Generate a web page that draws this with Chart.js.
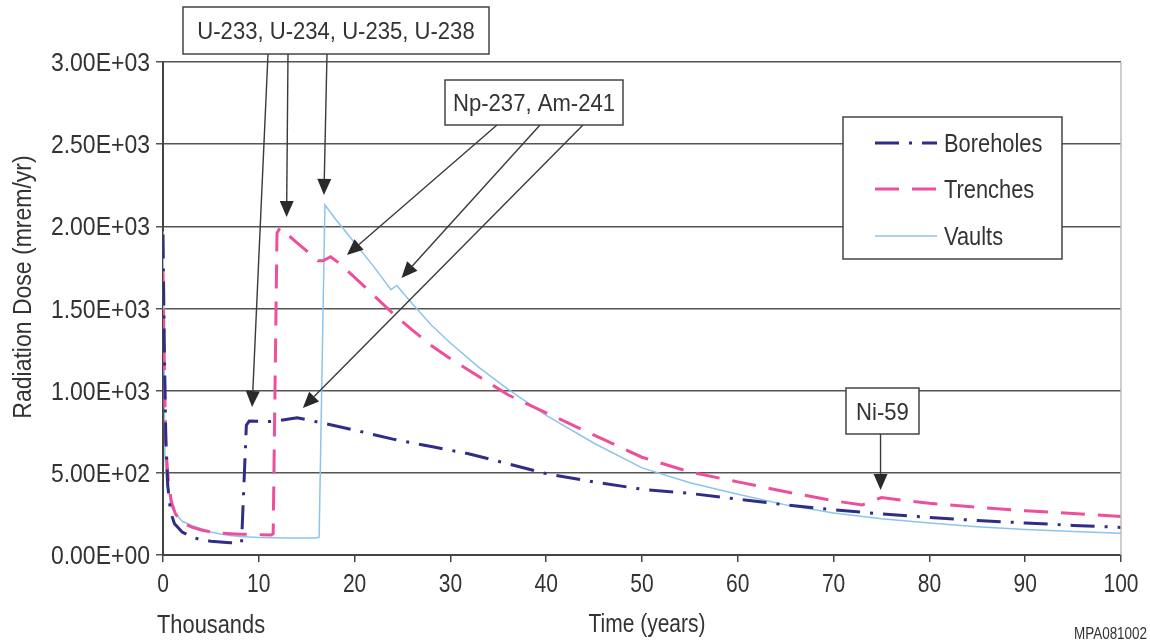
<!DOCTYPE html>
<html>
<head>
<meta charset="utf-8">
<script src="https://cdn.jsdelivr.net/npm/chart.js@4.4.1/dist/chart.umd.min.js"></script>
<style>
  html, body { margin: 0; padding: 0; background: #ffffff; }
  canvas { display: block; }
</style>
</head>
<body>
<canvas id="c" width="1150" height="642"></canvas>
<script>
// ---- Data (time in thousands of years, dose in mrem/yr) ----
const boreholesTime = [0, 0.15, 0.3, 0.5, 0.8, 1.2, 2, 3, 4, 5, 6, 7, 8, 8.2, 8.7, 9, 11, 11.8, 14, 16.5, 20, 24, 28, 32, 36, 40, 45, 50, 55, 60, 65, 70, 75, 80, 85, 90, 95, 100];
const boreholesDose = [1950, 1200, 700, 420, 260, 190, 140, 110, 92, 84, 79, 75, 73, 75, 790, 815, 812, 815, 835, 805, 760, 705, 660, 615, 555, 495, 445, 400, 375, 340, 305, 275, 250, 228, 210, 195, 180, 168];

const trenchesTime = [0, 0.15, 0.3, 0.6, 0.9, 1.3, 2, 3, 4, 5, 6, 8, 10, 11.3, 11.5, 11.9, 12.2, 14, 16.2, 16.7, 17.5, 18.5, 20, 22, 24, 26, 28, 30, 33, 36, 40, 45, 50, 55, 60, 65, 70, 73, 75, 77, 80, 85, 90, 95, 100];
const trenchesDose = [1720, 1100, 650, 420, 320, 250, 195, 170, 152, 140, 133, 127, 123, 122, 130, 1960, 1990, 1900, 1790, 1790, 1815, 1770, 1690, 1580, 1470, 1370, 1275, 1195, 1085, 975, 865, 730, 595, 505, 445, 385, 330, 305, 350, 335, 315, 290, 270, 252, 235];

const vaultsTime = [0, 0.2, 0.4, 0.6, 0.8, 1.2, 2, 3, 4, 5, 6, 7, 8, 10, 13, 16, 16.3, 16.9, 18, 20, 22, 23.8, 24.4, 26, 28, 30, 33, 36, 40, 45, 50, 55, 60, 65, 70, 75, 80, 85, 90, 95, 100];
const vaultsDose = [1970, 600, 425, 400, 300, 260, 205, 180, 160, 140, 128, 118, 112, 106, 104, 104, 110, 2130, 2045, 1900, 1755, 1615, 1640, 1530, 1400, 1290, 1140, 1010, 850, 680, 530, 440, 370, 305, 256, 220, 195, 172, 155, 143, 133];

const seriesNames = ['Boreholes', 'Trenches', 'Vaults'];
const xTickValues = [0, 10, 20, 30, 40, 50, 60, 70, 80, 90, 100];
const yTickValues = [0, 500, 1000, 1500, 2000, 2500, 3000];
const yTickLabels = ['0.00E+00', '5.00E+02', '1.00E+03', '1.50E+03', '2.00E+03', '2.50E+03', '3.00E+03'];

// Annotations: label, and arrow targets in data units (time, dose)
const annoUranium = 'U-233, U-234, U-235, U-238';
const annoUraniumTargets = [[9.3, 900], [12.9, 2057], [16.8, 2191]];
const annoNpAm = 'Np-237, Am-241';
const annoNpAmTargets = [[19.2, 1826], [24.9, 1686], [14.6, 895]];
const annoNi = 'Ni-59';
const annoNiTargets = [[74.9, 396]];

const toPts = (xs, ys) => xs.map((x, i) => ({ x: x, y: ys[i] }));

const REG = "'Liberation Sans', Arial, sans-serif";
const TXT = '#333333';
const SQUEEZE = 0.84;

const styles = [
  { color: '#2f2d85', width: 3, dash: [24, 10, 3, 10] },
  { color: '#ee4f9b', width: 3, dash: [24, 13] },
  { color: '#8cc4ec', width: 1.5, dash: [] }
];

// condensed text: regular face squeezed horizontally
function ctext(ctx, text, x, y, size, align, sx) {
  const k = sx || SQUEEZE;
  ctx.save();
  ctx.font = size + 'px ' + REG;
  ctx.textBaseline = 'alphabetic';
  ctx.textAlign = 'left';
  const w = ctx.measureText(text).width * k;
  let left = x;
  if (align === 'center') left = x - w / 2;
  else if (align === 'right') left = x - w;
  ctx.translate(left, y);
  ctx.scale(k, 1);
  ctx.fillStyle = TXT;
  ctx.fillText(text, 0, 0);
  ctx.restore();
}

function arrow(ctx, x1, y1, x2, y2) {
  const ang = Math.atan2(y2 - y1, x2 - x1);
  const L = 16, W = 7;
  const bx = x2 - L * Math.cos(ang), by = y2 - L * Math.sin(ang);
  ctx.beginPath();
  ctx.moveTo(x1, y1);
  ctx.lineTo(bx, by);
  ctx.stroke();
  ctx.beginPath();
  ctx.moveTo(x2, y2);
  ctx.lineTo(bx + W * Math.sin(ang), by - W * Math.cos(ang));
  ctx.lineTo(bx - W * Math.sin(ang), by + W * Math.cos(ang));
  ctx.closePath();
  ctx.fill();
}

function box(ctx, text, x, y, w, h, size) {
  ctx.fillStyle = '#ffffff';
  ctx.fillRect(x, y, w, h);
  ctx.strokeStyle = '#444444';
  ctx.lineWidth = 1.5;
  ctx.strokeRect(x, y, w, h);
  ctext(ctx, text, x + w / 2, y + h / 2 + size * 0.36, size, 'center', 0.92);
}

const extras = {
  id: 'extras',
  afterDraw(chart) {
    const ctx = chart.ctx;
    const xs = chart.scales.x, ys = chart.scales.y;
    const ca = chart.chartArea;
    ctx.save();
    // right border
    ctx.strokeStyle = '#bdbdbd';
    ctx.lineWidth = 1.5;
    ctx.beginPath();
    ctx.moveTo(ca.right, ca.top);
    ctx.lineTo(ca.right, ca.bottom);
    ctx.stroke();

    // tick labels
    yTickValues.forEach((v, i) => {
      ctext(ctx, yTickLabels[i], 150, ys.getPixelForValue(v) + 9, 25, 'right', 0.92);
    });
    xTickValues.forEach((v) => {
      ctext(ctx, String(v), xs.getPixelForValue(v), 592, 25, 'center');
    });

    // y title
    ctx.save();
    ctx.translate(31, 287);
    ctx.rotate(-Math.PI / 2);
    ctext(ctx, 'Radiation Dose (mrem/yr)', 0, 0, 25, 'center', 0.92);
    ctx.restore();

    // bottom labels
    ctext(ctx, 'Thousands', 157, 633, 26, 'left');
    ctext(ctx, 'Time (years)', 647, 632, 25, 'center');
    ctext(ctx, 'MPA081002', 1147, 639, 16, 'right');

    // legend
    ctx.fillStyle = '#ffffff';
    ctx.fillRect(843, 117, 219, 142);
    ctx.strokeStyle = '#444444';
    ctx.lineWidth = 1.5;
    ctx.strokeRect(843, 117, 219, 142);
    const rows = [143, 189, 236];
    seriesNames.forEach((name, i) => {
      const s = styles[i];
      ctx.strokeStyle = s.color;
      ctx.lineWidth = s.width;
      ctx.setLineDash(s.dash);
      ctx.beginPath();
      ctx.moveTo(875, rows[i]);
      ctx.lineTo(937, rows[i]);
      ctx.stroke();
      ctx.setLineDash([]);
      ctext(ctx, name, 944, rows[i] + 9, 26, 'left');
    });

    // annotations
    ctx.strokeStyle = '#3a3a3a';
    ctx.fillStyle = '#2a2a2a';
    ctx.lineWidth = 1.4;
    const uStarts = [268, 288, 327];
    annoUraniumTargets.forEach((t, i) => {
      arrow(ctx, uStarts[i], 54, xs.getPixelForValue(t[0]), ys.getPixelForValue(t[1]));
    });
    const nStarts = [497, 540, 583];
    annoNpAmTargets.forEach((t, i) => {
      arrow(ctx, nStarts[i], 125, xs.getPixelForValue(t[0]), ys.getPixelForValue(t[1]));
    });
    annoNiTargets.forEach((t) => {
      const px = xs.getPixelForValue(t[0]);
      arrow(ctx, px, 434, px, ys.getPixelForValue(t[1]));
    });
    box(ctx, annoUranium, 183, 7, 306, 47, 24);
    box(ctx, annoNpAm, 445, 80, 178, 45, 24);
    box(ctx, annoNi, 846, 388, 73, 46, 24);
    ctx.restore();
  }
};

const datasetsRaw = [
  toPts(boreholesTime, boreholesDose),
  toPts(trenchesTime, trenchesDose),
  toPts(vaultsTime, vaultsDose)
];

new Chart(document.getElementById('c'), {
  type: 'line',
  data: {
    datasets: seriesNames.map((name, i) => ({
      label: name,
      data: datasetsRaw[i],
      borderColor: styles[i].color,
      borderWidth: styles[i].width,
      borderDash: styles[i].dash,
      pointRadius: 0,
      tension: 0,
      fill: false
    }))
  },
  options: {
    responsive: false,
    animation: false,
    events: [],
    layout: { padding: { top: 62, right: 29, left: 0, bottom: 0 }, autoPadding: false },
    plugins: { legend: { display: false }, tooltip: { enabled: false }, title: { display: false } },
    scales: {
      x: {
        type: 'linear',
        min: 0, max: 100,
        afterBuildTicks: (s) => { s.ticks = xTickValues.map(v => ({ value: v })); },
        afterFit: (s) => { s.height = 87; },
        ticks: { color: 'rgba(0,0,0,0)', font: { family: REG, size: 20 }, padding: 6, maxRotation: 0, callback: (v) => String(v) },
        grid: { drawOnChartArea: false, drawTicks: true, tickLength: 7, color: '#444444', lineWidth: 1.5 },
        border: { display: true, color: '#444444', width: 2 }
      },
      y: {
        min: 0, max: 3000,
        afterBuildTicks: (s) => { s.ticks = yTickValues.map(v => ({ value: v })); },
        afterFit: (s) => { s.width = 163; },
        ticks: { color: 'rgba(0,0,0,0)', font: { family: REG, size: 20 }, padding: 6, callback: (v) => yTickLabels[yTickValues.indexOf(v)] },
        grid: { color: '#555555', lineWidth: 1.5, drawTicks: true, tickLength: 7 },
        border: { display: true, color: '#444444', width: 2 }
      }
    }
  },
  plugins: [extras]
});
</script>
</body>
</html>
